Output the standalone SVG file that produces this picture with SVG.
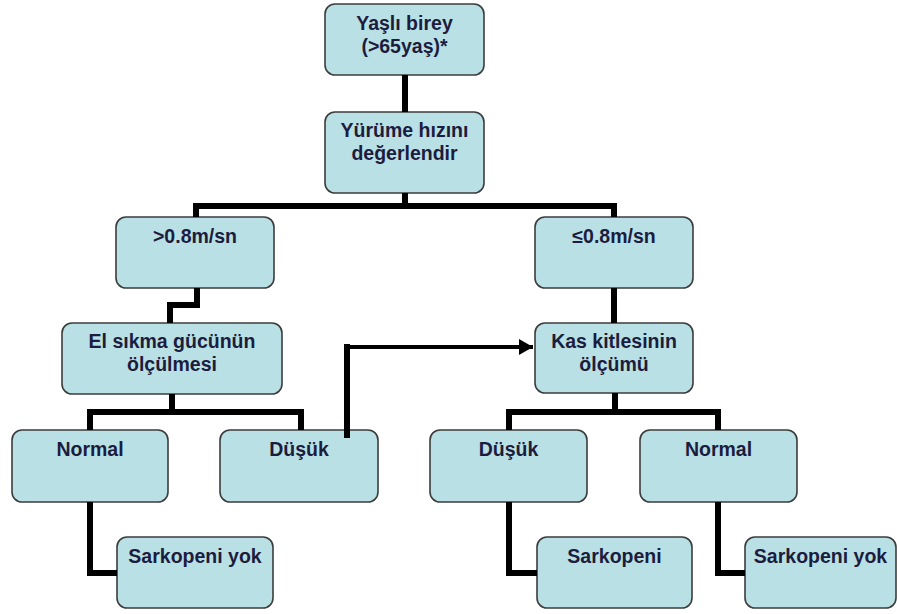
<svg xmlns="http://www.w3.org/2000/svg" width="897" height="614" viewBox="0 0 897 614">
<defs>
<style>
.box{fill:#b9e0e4;stroke:#3c3c3c;stroke-width:1.6}
.t{font-family:"Liberation Sans",Arial,sans-serif;font-weight:bold;font-size:19.5px;fill:#1c1c3e;text-anchor:middle}
.c{fill:none;stroke:#000;stroke-width:6;stroke-linejoin:miter;stroke-linecap:butt}
</style>
<marker id="ah" markerWidth="14" markerHeight="16" refX="14" refY="8" orient="auto" markerUnits="userSpaceOnUse">
<path d="M0,0 L14,8 L0,16 Z" fill="#000"/>
</marker>
</defs>
<rect width="897" height="614" fill="#fff"/>
<g id="n-yasli"><rect class="box" x="325" y="4" width="159" height="71" rx="10"/><text class="t" x="404.5" y="30">Yaşlı birey</text><text class="t" x="404.5" y="53">(&gt;65yaş)*</text></g>
<g id="n-yurume"><rect class="box" x="325" y="112" width="159" height="81" rx="10"/><text class="t" x="404.5" y="137">Yürüme hızını</text><text class="t" x="404.5" y="160">değerlendir</text></g>
<g id="n-gt"><rect class="box" x="116" y="217" width="158" height="71" rx="10"/><text class="t" x="195" y="243">&gt;0.8m/sn</text></g>
<g id="n-le"><rect class="box" x="535" y="217" width="158" height="71" rx="10"/><text class="t" x="614" y="243">≤0.8m/sn</text></g>
<g id="n-el"><rect class="box" x="62" y="323" width="220" height="71" rx="10"/><text class="t" x="172" y="348">El sıkma gücünün</text><text class="t" x="172" y="371">ölçülmesi</text></g>
<g id="n-kas"><rect class="box" x="535" y="323" width="158" height="70" rx="10"/><text class="t" x="614" y="348">Kas kitlesinin</text><text class="t" x="614" y="371">ölçümü</text></g>
<g id="n-normalL"><rect class="box" x="12" y="430" width="156" height="72" rx="10"/><text class="t" x="90" y="456">Normal</text></g>
<g id="n-dusukL"><rect class="box" x="220" y="430" width="158" height="72" rx="10"/><text class="t" x="299" y="456">Düşük</text></g>
<g id="n-dusukR"><rect class="box" x="430" y="430" width="157" height="72" rx="10"/><text class="t" x="508.5" y="456">Düşük</text></g>
<g id="n-normalR"><rect class="box" x="640" y="430" width="157" height="72" rx="10"/><text class="t" x="718.5" y="456">Normal</text></g>
<g id="n-sarkyokL"><rect class="box" x="117" y="537" width="156" height="71" rx="10"/><text class="t" x="195" y="563">Sarkopeni yok</text></g>
<g id="n-sark"><rect class="box" x="537" y="537" width="155" height="71" rx="10"/><text class="t" x="614.5" y="563">Sarkopeni</text></g>
<g id="n-sarkyokR"><rect class="box" x="745" y="537" width="151" height="71" rx="10"/><text class="t" x="820.5" y="563">Sarkopeni yok</text></g>
<g id="connectors">
<path class="c" d="M405,75 V112"/>
<path class="c" d="M405,193 V206"/>
<path class="c" d="M196,217 V206 H614 V217"/>
<path class="c" d="M197,288 V305 H170 V323"/>
<path class="c" d="M614,288 V323"/>
<path class="c" d="M172,394 V412"/>
<path class="c" d="M90,430 V412 H301 V430"/>
<path class="c" d="M615,393 V412"/>
<path class="c" d="M509,430 V412 H718 V430"/>
<path class="c" d="M90,502 V573 H117"/>
<path class="c" d="M509,502 V573 H537"/>
<path class="c" d="M718,502 V573 H745"/>
<path class="c" d="M347,438 V344"/>
<path class="c" d="M344,347 H533" style="stroke-width:4" marker-end="url(#ah)"/>
</g>
</svg>
